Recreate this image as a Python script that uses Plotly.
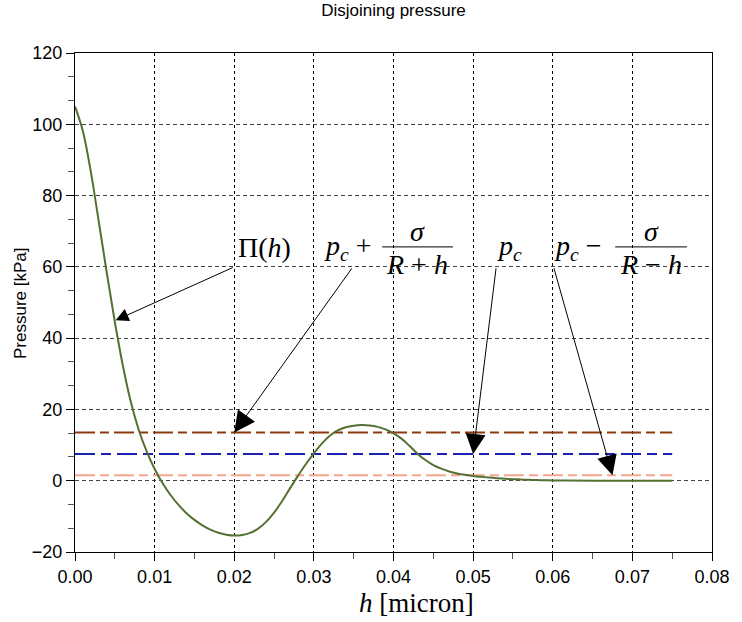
import plotly.graph_objects as go

# Disjoining pressure curve, h in micron, pressure in kPa
h_vals = [0.000, 0.001, 0.002, 0.003, 0.004, 0.005, 0.006, 0.007, 0.008, 0.009,
          0.010, 0.011, 0.012, 0.013, 0.014, 0.015, 0.016, 0.017, 0.018, 0.019,
          0.020, 0.021, 0.022, 0.023, 0.024, 0.025, 0.026, 0.027, 0.028, 0.029,
          0.030, 0.031, 0.032, 0.033, 0.034, 0.035, 0.036, 0.037, 0.038, 0.039,
          0.040, 0.041, 0.042, 0.043, 0.044, 0.045, 0.046, 0.047, 0.048, 0.049,
          0.050, 0.051, 0.052, 0.053, 0.054, 0.055, 0.056, 0.057, 0.058, 0.059,
          0.060, 0.062, 0.065, 0.070, 0.075]
pi_vals = [105.0, 98.0, 86.5, 72.5, 58.2, 44.6, 32.4, 22.2, 14.3, 8.2,
           3.3, -0.7, -4.0, -6.8, -9.1, -11.0, -12.5, -13.7, -14.6, -15.15,
           -15.4, -15.25, -14.65, -13.45, -11.55, -8.95, -5.75, -2.15, 1.35, 4.7,
           7.7, 10.4, 12.6, 14.1, 15.0, 15.45, 15.6, 15.5, 15.1, 14.4,
           13.3, 11.8, 9.8, 7.6, 5.8, 4.4, 3.4, 2.6, 2.05, 1.65,
           1.35, 1.1, 0.88, 0.7, 0.55, 0.43, 0.33, 0.25, 0.18, 0.13,
           0.09, 0.04, 0.01, 0.0, 0.0]

# Constant reference pressures over the same h span
h_span = [0.0, 0.075]
p_plus = [13.5, 13.5]    # p_c + sigma/(R+h)
p_c = [7.5, 7.5]         # p_c
p_minus = [1.5, 1.5]     # p_c - sigma/(R-h)

x_ticks = [0.00, 0.01, 0.02, 0.03, 0.04, 0.05, 0.06, 0.07, 0.08]
y_ticks = [-20, 0, 20, 40, 60, 80, 100, 120]

SANS = "Liberation Sans, Arial, sans-serif"
SERIF = "Liberation Serif, Times New Roman, serif"
MATH = 28
DASH = "20px,5px,9px,5px"

fig = go.Figure()
fig.add_trace(go.Scatter(x=h_span, y=p_plus, mode="lines",
                         line=dict(color="#8b3a0e", width=2, dash=DASH)))
fig.add_trace(go.Scatter(x=h_span, y=p_c, mode="lines",
                         line=dict(color="#1c22b0", width=2, dash="20px,6px,10px,6px")))
fig.add_trace(go.Scatter(x=h_span, y=p_minus, mode="lines",
                         line=dict(color="#f3a58e", width=2, dash=DASH)))
fig.add_trace(go.Scatter(x=h_vals, y=pi_vals, mode="lines",
                         line=dict(color="#557033", width=2, shape="spline", smoothing=1.0)))

ann = []
# arrows: (tip_x, tip_y, tail_x, tail_y, arrowsize)
arrows = [
    (0.0051, 45.0, 0.0200, 60.0, 2.6),
    (0.0200, 13.5, 0.0349, 60.0, 4.2),
    (0.0500, 7.5, 0.0529, 60.0, 4.0),
    (0.0675, 1.5, 0.0601, 60.0, 4.0),
]
for tx, ty, sx, sy, sz in arrows:
    ann.append(dict(x=tx, y=ty, ax=sx, ay=sy, xref="x", yref="y", axref="x", ayref="y",
                    text="", showarrow=True, arrowhead=2, arrowsize=sz,
                    arrowwidth=1, arrowcolor="black"))

def label(text, x, y, xanchor="center"):
    ann.append(dict(x=x, y=y, xref="x", yref="y", text=text, showarrow=False,
                    xanchor=xanchor, yanchor="middle",
                    font=dict(family=SERIF, size=MATH, color="black")))

pc = "<i>p</i><sub><i>c</i></sub>"
label("Π(<i>h</i>)", 0.0202, 65.5, "left")
label(pc + " +", 0.0375, 65.3, "right")
label("<i>σ</i>", 0.0430, 70.0)
label("<i>R</i> + <i>h</i>", 0.0430, 60.8)
label(pc, 0.0546, 65.3)
label(pc + " −", 0.0599, 65.3, "left")
label("<i>σ</i>", 0.0724, 70.0)
label("<i>R</i> − <i>h</i>", 0.0724, 60.8)

# axis titles
ann.append(dict(x=0.536, y=-0.102, xref="paper", yref="paper", showarrow=False,
                text="<i>h</i> [micron]", xanchor="center", yanchor="middle",
                font=dict(family=SERIF, size=27, color="black")))
ann.append(dict(x=-0.0856, y=0.5, xref="paper", yref="paper", showarrow=False,
                text="Pressure [kPa]", textangle=-90, xanchor="center", yanchor="middle",
                font=dict(family=SANS, size=17, color="black")))

# fraction bars
shapes = [
    dict(type="line", xref="x", yref="y", x0=0.03858, x1=0.04747, y0=65.6, y1=65.6,
         line=dict(color="black", width=1)),
    dict(type="line", xref="x", yref="y", x0=0.06784, x1=0.07685, y0=65.6, y1=65.6,
         line=dict(color="black", width=1)),
]

fig.update_layout(
    width=742, height=622,
    margin=dict(l=75, r=19, t=53, b=70),
    paper_bgcolor="white", plot_bgcolor="white",
    showlegend=False,
    title=dict(text="Disjoining pressure", x=0.5, xref="paper", xanchor="center",
               y=1 - 10 / 622, yref="container", yanchor="middle",
               font=dict(family=SANS, size=17, color="black")),
    annotations=ann, shapes=shapes,
)
fig.update_xaxes(
    range=[0, 0.08], tickvals=x_ticks, ticktext=[f"{v:.2f}" for v in x_ticks],
    showline=True, linecolor="black", linewidth=1.3, mirror=True,
    ticks="outside", ticklen=8, tickcolor="black",
    tickfont=dict(family=SANS, size=18, color="black"),
    showgrid=True, gridcolor="black", gridwidth=1, griddash="3px,3px",
    zeroline=False,
    minor=dict(dtick=0.005, tick0=0, ticks="outside", ticklen=6, tickcolor="#555", showgrid=False),
)
fig.update_yaxes(
    range=[-20, 120], tickvals=y_ticks,
    showline=True, linecolor="black", linewidth=1.3, mirror=True,
    ticks="outside", ticklen=8, tickcolor="black",
    tickfont=dict(family=SANS, size=18, color="black"),
    showgrid=True, gridcolor="#444", gridwidth=1, griddash="4px,3px",
    zeroline=False,
    minor=dict(dtick=20 / 3, tick0=0, ticks="outside", ticklen=6, tickcolor="#555", showgrid=False),
)

fig.write_html("out.html")
